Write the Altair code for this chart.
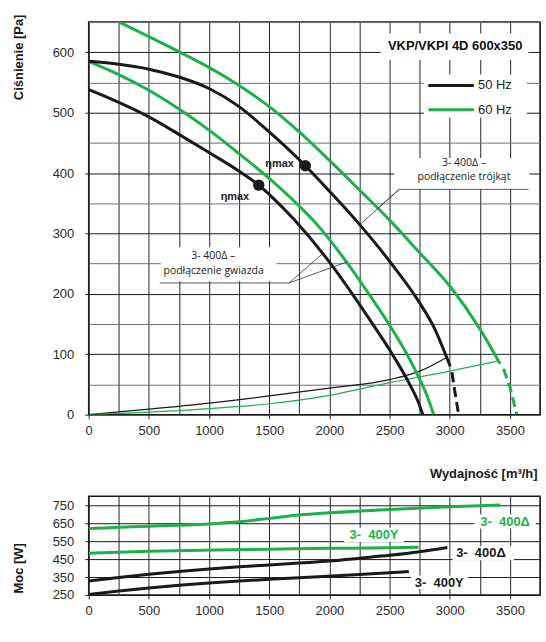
import altair as alt
import pandas as pd

BLACK = "#1a1a1a"
GREEN = "#1fb04c"
FONT = "Liberation Sans"
AFONT = "Open Sans"

# ---------------- top chart: pressure curves (q in m3/h, p in Pa) ----------------
q_bY = [0, 250, 500, 750, 1000, 1250, 1413, 1530, 1707, 2010, 2190, 2356, 2523, 2673, 2740, 2776]
p_bY = [538, 517, 493, 464, 434, 403, 380, 359, 323, 250, 200, 151, 100, 48, 20, 0]

q_gY = [0, 250, 500, 750, 1000, 1250, 1500, 1750, 1873, 2134, 2300, 2494, 2650, 2742, 2810, 2866]
p_gY = [585, 563, 537, 506, 471, 432, 391, 345, 320, 255, 208, 150, 98, 62, 32, 0]

q_bD = [0, 250, 500, 750, 1000, 1250, 1500, 1800, 2000, 2250, 2500, 2750, 2880, 2960, 3004]
p_bD = [585, 580, 572, 559, 540, 510, 468, 412, 370, 315, 254, 185, 140, 102, 80]

q_gD = [254, 500, 750, 1000, 1250, 1500, 1750, 2000, 2250, 2500, 2750, 3000, 3250, 3419]
p_gD = [650, 626, 601, 575, 545, 510, 468, 421, 372, 322, 268, 213, 142, 84]

q_bD_ext = [3018, 3045, 3074]
p_bD_ext = [70, 35, 0]
q_gD_ext = [3447, 3501, 3557]
p_gD_ext = [76, 45, 0]

q_sys_b = [0, 500, 1000, 1500, 2000, 2500, 2750, 2985]
p_sys_b = [0, 9, 19, 31, 44, 58, 72, 96]
q_sys_g = [0, 500, 1000, 1500, 2000, 2500, 3000, 3405]
p_sys_g = [0, 4, 10, 18, 32, 53, 72, 89]

eta_q = [1413, 1800]
eta_p = [380, 412]
eta_label_q = [1215, 1586]
eta_label_p = [361, 415]
eta_text = ["ηmax", "ηmax"]

# ---------------- bottom chart: power (W) ----------------
bq_gD = [0, 250, 500, 750, 1000, 1250, 1500, 1750, 2000, 2500, 3000, 3420]
bp_gD = [621, 627, 633, 639, 646, 658, 677, 696, 708, 727, 742, 752]
bq_gY = [0, 500, 1000, 1500, 2000, 2500, 2740]
bp_gY = [483, 494, 500, 505, 510, 513, 516]
bq_bD = [0, 250, 500, 750, 1000, 1250, 1500, 1750, 2000, 2250, 2500, 2750, 2980]
bp_bD = [328, 347, 365, 381, 395, 407, 417, 428, 439, 455, 471, 491, 515]
bq_bY = [0, 250, 500, 750, 1000, 1250, 1500, 1750, 2250, 2660]
bp_bY = [253, 272, 289, 304, 317, 328, 337, 346, 364, 381]

# ---------------- annotations ----------------
title_text = ["VKP/VKPI 4D 600x350"]
title_q = [3045]
title_p = [610]

legend_labels = ["50 Hz", "60 Hz"]
legend_hz = ["50 Hz", "60 Hz"]
legend_line_q = [2822, 2822]
legend_line_q2 = [3200, 3200]
legend_p = [545, 505]
legend_text_q = [3235, 3235]

note_text = ["3- 400Δ –", "podłączenie trójkąt", "3- 400Δ –", "podłączenie gwiazda"]
note_q = [3118, 3118, 1035, 1038]
note_p = [417, 394, 262, 237]

# white label boxes (data units)
box_q = [2425, 2786, 2540, 600]
box_q2 = [3655, 3640, 3660, 1560]
box_p = [587, 492, 373, 221]
box_p2 = [631, 563, 425, 277]

# leader / underline segments
seg_q = [2580, 2580, 2580, 591, 1665, 1665]
seg_p = [373, 373, 373, 218, 218, 218]
seg_q2 = [3656, 2262, 2410, 1665, 1941, 2149]
seg_p2 = [373, 316, 343, 218, 266, 253]

bot_text = ["3-\u00a0 400Δ", "3-\u00a0 400Y", "3-\u00a0 400Δ", "3-\u00a0 400Y"]
bot_hz = ["60 Hz", "60 Hz", "50 Hz", "50 Hz"]
bot_text_q = [3460, 2371, 3259, 2913]
bot_text_p = [658, 584, 483, 314]
bot_box_q = [3203, 2122, 3024, 2680]
bot_box_q2 = [3714, 2620, 3533, 3150]
bot_box_p = [620, 545, 443, 283]
bot_box_p2 = [698, 625, 522, 358]


def frame(xs, ys, series, hz):
    return pd.DataFrame({"q": xs, "p": ys, "series": series, "hz": hz})


color = alt.Color("hz:N", scale=alt.Scale(domain=["50 Hz", "60 Hz"], range=[BLACK, GREEN]), legend=None)

TRANSP = "rgba(0,0,0,0)"


def x_enc(title):
    ax = dict(
        values=list(range(0, 3751, 250)), format="d",
        labelExpr="datum.value % 500 === 0 ? datum.label : ''",
        labelOverlap=False, labelFlush=False, grid=True, gridColor="#262626", gridWidth=1,
        domain=False, tickSize=4,
        tickColor={"condition": {"test": "datum.value % 500 === 0", "value": "#262626"}, "value": TRANSP},
        labelPadding=6,
    )
    if title:
        ax.update(title=title, titleAnchor="end", titleX=450, titleY=53)
    else:
        ax.update(title=None)
    return alt.X("q:Q", scale=alt.Scale(domain=[0, 3750], nice=False, zero=False), axis=alt.Axis(**ax))


X_TOP = x_enc("Wydajność [m³/h]")
Y_TOP = alt.Y(
    "p:Q", scale=alt.Scale(domain=[0, 650], nice=False, zero=False),
    axis=alt.Axis(
        values=list(range(0, 651, 50)),
        labelExpr="datum.value % 100 === 0 ? datum.label : ''",
        labelOverlap=False, labelFlush=False, grid=True,
        gridColor={"condition": {"test": "datum.value % 100 === 0", "value": "#1a1a1a"}, "value": "#707070"},
        domain=False, tickSize=4,
        tickColor={"condition": {"test": "datum.value % 100 === 0", "value": "#262626"}, "value": TRANSP},
        labelPadding=11, title="Ciśnienie [Pa]", titleAnchor="end", titleX=-63, titleY=-8,
    ),
)

curves = pd.concat([
    frame(q_bY, p_bY, "bY", "50 Hz"), frame(q_gY, p_gY, "gY", "60 Hz"),
    frame(q_bD, p_bD, "bD", "50 Hz"), frame(q_gD, p_gD, "gD", "60 Hz"),
])
ext = pd.concat([frame(q_bD_ext, p_bD_ext, "bDx", "50 Hz"), frame(q_gD_ext, p_gD_ext, "gDx", "60 Hz")])
sysc = pd.concat([frame(q_sys_b, p_sys_b, "sb", "50 Hz"), frame(q_sys_g, p_sys_g, "sg", "60 Hz")])

boxes = pd.DataFrame({"q": box_q, "q2": box_q2, "p": box_p, "p2": box_p2})
segs = pd.DataFrame({"q": seg_q, "q2": seg_q2, "p": seg_p, "p2": seg_p2})
dots = pd.DataFrame({"q": eta_q, "p": eta_p})
eta_lbl = pd.DataFrame({"q": eta_label_q, "p": eta_label_p, "t": eta_text})
ttl = pd.DataFrame({"q": title_q, "p": title_p, "t": title_text})
leg_lines = pd.DataFrame({"q": legend_line_q, "q2": legend_line_q2, "p": legend_p, "hz": legend_hz})
leg_txt = pd.DataFrame({"q": legend_text_q, "p": legend_p, "t": legend_labels})
notes = pd.DataFrame({"q": note_q, "p": note_p, "t": note_text})

top = alt.layer(
    alt.Chart(boxes).mark_rect(fill="white", stroke=None).encode(x=X_TOP, x2="q2:Q", y=Y_TOP, y2="p2:Q"),
    alt.Chart(sysc).mark_line(strokeWidth=1.2, clip=True, interpolate="monotone").encode(
        x=X_TOP, y=Y_TOP, color=color, detail="series:N"),
    alt.Chart(curves).mark_line(strokeWidth=3, clip=True, interpolate="monotone").encode(
        x=X_TOP, y=Y_TOP, color=color, detail="series:N"),
    alt.Chart(ext).mark_line(strokeWidth=3, clip=True, strokeDash=[10, 5]).encode(
        x=X_TOP, y=Y_TOP, color=color, detail="series:N"),
    alt.Chart(segs).mark_rule(color="#333333", strokeWidth=0.8).encode(x=X_TOP, x2="q2:Q", y=Y_TOP, y2="p2:Q"),
    alt.Chart(dots).mark_point(filled=True, size=130, color=BLACK, opacity=1).encode(x=X_TOP, y=Y_TOP),
    alt.Chart(eta_lbl).mark_text(font=FONT, fontSize=11, fontWeight="bold", color="#222222").encode(
        x=X_TOP, y=Y_TOP, text="t:N"),
    alt.Chart(ttl).mark_text(font=FONT, fontSize=13, fontWeight="bold", color="#111111").encode(
        x=X_TOP, y=Y_TOP, text="t:N"),
    alt.Chart(leg_lines).mark_rule(strokeWidth=3).encode(x=X_TOP, x2="q2:Q", y=Y_TOP, color=color),
    alt.Chart(leg_txt).mark_text(font=FONT, fontSize=13, align="left", color="#222222").encode(
        x=X_TOP, y=Y_TOP, text="t:N"),
    alt.Chart(notes).mark_text(font=AFONT, fontSize=10.5, color="#222222").encode(
        x=X_TOP, y=Y_TOP, text="t:N"),
).properties(width=453, height=394)

# ---------------- bottom chart ----------------
X_BOT = x_enc(None)
Y_BOT = alt.Y(
    "p:Q", scale=alt.Scale(domain=[250, 800], nice=False, zero=False),
    axis=alt.Axis(
        values=[250, 350, 450, 550, 650, 750], labelOverlap=False, labelFlush=False,
        grid=True, gridColor="#1a1a1a", domain=False, tickSize=4, tickColor="#262626",
        labelPadding=11, title="Moc [W]", titleAnchor="start", titleX=-63, titleY=97,
    ),
)

pcurves = pd.concat([
    frame(bq_gD, bp_gD, "gD", "60 Hz"), frame(bq_gY, bp_gY, "gY", "60 Hz"),
    frame(bq_bD, bp_bD, "bD", "50 Hz"), frame(bq_bY, bp_bY, "bY", "50 Hz"),
])
bboxes = pd.DataFrame({"q": bot_box_q, "q2": bot_box_q2, "p": bot_box_p, "p2": bot_box_p2})
btxt = pd.DataFrame({"q": bot_text_q, "p": bot_text_p, "t": bot_text, "hz": bot_hz})

bottom = alt.layer(
    alt.Chart(bboxes).mark_rect(fill="white", stroke=None).encode(x=X_BOT, x2="q2:Q", y=Y_BOT, y2="p2:Q"),
    alt.Chart(pcurves).mark_line(strokeWidth=3, clip=True, interpolate="monotone").encode(
        x=X_BOT, y=Y_BOT, color=color, detail="series:N"),
    alt.Chart(btxt).mark_text(font=FONT, fontSize=13, fontWeight="bold").encode(
        x=X_BOT, y=Y_BOT, text="t:N", color=color),
).properties(width=453, height=99)

chart = alt.vconcat(top, bottom, spacing=14).properties(
    padding={"left": 12, "top": 12, "right": 4, "bottom": 4}
).configure(font=FONT, background="white").configure_view(
    stroke=BLACK, strokeWidth=1.5
).configure_axis(
    labelFont=FONT, labelFontSize=13, labelColor="#2b2b2b",
    titleFont=FONT, titleFontSize=13, titleFontWeight="bold", titleColor="#1a1a1a",
)

chart.save("out.html", embed_options={"renderer": "svg", "actions": False})
